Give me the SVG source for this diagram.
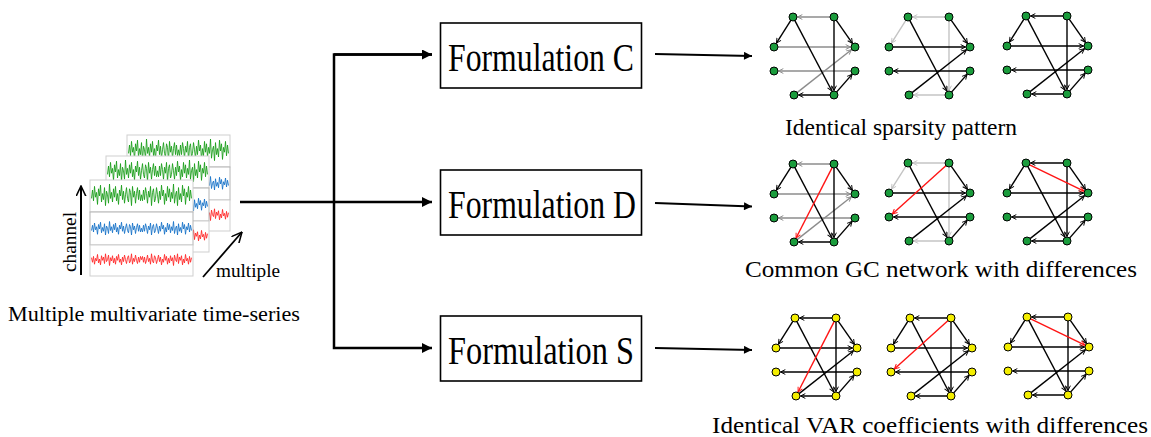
<svg xmlns="http://www.w3.org/2000/svg" xmlns:xlink="http://www.w3.org/1999/xlink" width="1151" height="437" viewBox="0 0 1151 437">
<style>
.box{fill:#fff;stroke:#000;stroke-width:1.6}
.t{font-family:"Liberation Serif","Times New Roman",serif;fill:#000}
.main{stroke:#000;stroke-width:2.5;fill:none}
.out{stroke:#000;stroke-width:2;fill:none}
.e{stroke-width:1.4;fill:none}
.k{stroke:#000;marker-end:url(#mk)}
.g{stroke:#8c8c8c;marker-end:url(#mg)}
.lg{stroke:#c4c4c4;marker-end:url(#ml)}
.r{stroke:#ff1414;marker-end:url(#mr)}
.gn{fill:#1a9c3c}
.yn{fill:#f4ee00}
.sp{fill:#fff;stroke:#cfcfcf;stroke-width:1}
.ts{fill:none;stroke-width:0.9}
</style>
<defs>
<marker id="mk" viewBox="0 0 10 10" refX="9" refY="5" markerWidth="6" markerHeight="6" markerUnits="userSpaceOnUse" orient="auto"><path d="M1,1 L9,5 L1,9" fill="none" stroke="#000" stroke-width="1.6"/></marker>
<marker id="mg" viewBox="0 0 10 10" refX="9" refY="5" markerWidth="6" markerHeight="6" markerUnits="userSpaceOnUse" orient="auto"><path d="M1,1 L9,5 L1,9" fill="none" stroke="#8c8c8c" stroke-width="1.6"/></marker>
<marker id="ml" viewBox="0 0 10 10" refX="9" refY="5" markerWidth="6" markerHeight="6" markerUnits="userSpaceOnUse" orient="auto"><path d="M1,1 L9,5 L1,9" fill="none" stroke="#c4c4c4" stroke-width="1.6"/></marker>
<marker id="mr" viewBox="0 0 10 10" refX="9" refY="5" markerWidth="6" markerHeight="6" markerUnits="userSpaceOnUse" orient="auto"><path d="M1,1 L9,5 L1,9" fill="none" stroke="#ff1414" stroke-width="1.6"/></marker>
<marker id="fa" viewBox="0 0 10 10" refX="10" refY="5" markerWidth="11" markerHeight="10" markerUnits="userSpaceOnUse" orient="auto"><path d="M0,0 L10,5 L0,10 Z" fill="#000"/></marker>
<marker id="fb" viewBox="0 0 10 10" refX="10" refY="5" markerWidth="10" markerHeight="8" markerUnits="userSpaceOnUse" orient="auto"><path d="M0,0 L10,5 L0,10 Z" fill="#000"/></marker>
<marker id="ov" viewBox="0 0 10 10" refX="9.5" refY="5" markerWidth="11" markerHeight="11" markerUnits="userSpaceOnUse" orient="auto"><path d="M0,0.5 L9.5,5 L0,9.5" fill="none" stroke="#000" stroke-width="1.4"/></marker>

<path id="n" vector-effect="non-scaling-stroke" d="M0,2 L2,-5 4,4 6,-8 8,1 10,-3 12,7 14,-6 16,0 18,-9 20,5 22,-2 24,3 26,-7 28,8 30,-4 32,-1 34,6 36,-10 38,2 40,-3 42,5 44,-6 46,1 48,-8 50,4 52,-2 54,7 56,-5 58,0 60,-9 62,3 64,-4 66,6 68,-1 70,-7 72,2 74,5 76,-6 78,-3 80,8 82,-8 84,1 86,-4 88,6 90,-2 92,-7 94,3 96,-5 98,4 100,-1"/>
<g id="ts"><use xlink:href="#n" transform="translate(1.5,0) scale(0.5,1)"/><use xlink:href="#n" transform="translate(101.5,0) scale(-0.5,1)"/></g>

<g id="panel">
<rect width="103" height="96" fill="#fff"/>
<rect class="sp" x="0" y="0" width="103" height="32"/>
<rect class="sp" x="0" y="32" width="103" height="33" style="stroke:#b4b4b4"/>
<rect class="sp" x="0" y="65" width="103" height="31"/>
<use class="ts" xlink:href="#ts" transform="translate(0,16) scale(1,1.2)" stroke="#1c9e1c"/>
<use class="ts" xlink:href="#ts" transform="translate(103,49) scale(-1,0.75)" stroke="#1a74c8"/>
<use class="ts" xlink:href="#ts" transform="translate(0,79) scale(1,-0.65)" stroke="#ff2a2a"/>
</g>

<line id="e1" x1="56.5" y1="0" x2="23.5" y2="0"/>
<line id="e2" x1="17.13" y1="2.96" x2="2.41" y2="26.2"/>
<line id="e3" x1="20.63" y1="3.1" x2="57.91" y2="74.02"/>
<line id="e4" x1="60" y1="3.5" x2="60" y2="73.5"/>
<line id="e5" x1="62.01" y1="2.87" x2="78.42" y2="26.31"/>
<line id="e6" x1="3.5" y1="30" x2="76.5" y2="30"/>
<line id="e7" x1="77.5" y1="54" x2="4.5" y2="54"/>
<line id="e8" x1="22.75" y1="75.84" x2="77.46" y2="32.78"/>
<line id="e9" x1="56.5" y1="78" x2="24.5" y2="78"/>
<line id="e10" x1="62.3" y1="75.37" x2="78.04" y2="57.39"/>
<line id="ra" x1="58.4" y1="3.11" x2="22.05" y2="74"/>
<line id="rb" x1="57.4" y1="2.34" x2="3.34" y2="50.99"/>
<line id="rc" x1="22.15" y1="1.52" x2="76.95" y2="28.04"/>
<g id="nodes" stroke="#000" stroke-width="1">
<circle cx="19" cy="0" r="4"/><circle cx="60" cy="0" r="4"/>
<circle cx="0" cy="30" r="4"/><circle cx="81" cy="30" r="4"/>
<circle cx="0" cy="54" r="4"/><circle cx="81" cy="54" r="4"/>
<circle cx="20" cy="78" r="4"/><circle cx="60" cy="78" r="4"/>
</g>
<g id="allk" class="e k">
<use xlink:href="#e1"/><use xlink:href="#e2"/><use xlink:href="#e3"/><use xlink:href="#e4"/><use xlink:href="#e5"/>
<use xlink:href="#e6"/><use xlink:href="#e7"/><use xlink:href="#e8"/><use xlink:href="#e9"/><use xlink:href="#e10"/>
</g>
<g id="patA" class="e">
<use xlink:href="#e1" class="g"/><use xlink:href="#e6" class="g"/><use xlink:href="#e7" class="g"/><use xlink:href="#e8" class="g"/>
<use xlink:href="#e2" class="k"/><use xlink:href="#e3" class="k"/><use xlink:href="#e4" class="k"/><use xlink:href="#e5" class="k"/><use xlink:href="#e9" class="k"/><use xlink:href="#e10" class="k"/>
</g>
<g id="patB" class="e">
<use xlink:href="#e1" class="lg"/><use xlink:href="#e2" class="lg"/><use xlink:href="#e4" class="lg"/><use xlink:href="#e9" class="lg"/>
<use xlink:href="#e3" class="k"/><use xlink:href="#e5" class="k"/><use xlink:href="#e6" class="k"/><use xlink:href="#e7" class="k"/><use xlink:href="#e8" class="k"/><use xlink:href="#e10" class="k"/>
</g>
</defs>

<rect width="1151" height="437" fill="#fff"/>

<g id="time-series">
<use xlink:href="#panel" x="127" y="135"/>
<use xlink:href="#panel" x="106" y="156"/>
<use xlink:href="#panel" x="90" y="180"/>
<line x1="81" y1="275" x2="81" y2="186" stroke="#000" stroke-width="2" marker-end="url(#ov)"/>
<text class="t" transform="translate(76,242) rotate(-90)" text-anchor="middle" font-size="19" textLength="60" lengthAdjust="spacingAndGlyphs">channel</text>
<line x1="203" y1="277" x2="242" y2="232" stroke="#000" stroke-width="1.8" marker-end="url(#ov)"/>
<text class="t" x="216" y="277" font-size="19" textLength="64" lengthAdjust="spacingAndGlyphs">multiple</text>
<text class="t" x="8" y="321" font-size="20" textLength="292" lengthAdjust="spacingAndGlyphs">Multiple multivariate time-series</text>
</g>

<g id="connectors">
<line class="main" x1="240" y1="202" x2="432" y2="202" marker-end="url(#fa)"/>
<polyline class="main" points="432,54.5 334,54.5 334,348 432,348" marker-end="url(#fa)"/>
<line class="main" x1="334" y1="54.5" x2="432" y2="54.5" marker-end="url(#fa)"/>
<line class="out" x1="655" y1="54" x2="752" y2="56" marker-end="url(#fb)"/>
<line class="out" x1="655" y1="203" x2="752" y2="206.5" marker-end="url(#fb)"/>
<line class="out" x1="655" y1="348" x2="752" y2="350" marker-end="url(#fb)"/>
</g>

<g id="formulation-c">
<rect class="box" x="440.5" y="23" width="201" height="65"/>
<text class="t" x="448" y="71" font-size="39" textLength="186" lengthAdjust="spacingAndGlyphs">Formulation C</text>
</g>
<g id="formulation-d">
<rect class="box" x="440.5" y="170" width="201" height="65"/>
<text class="t" x="448" y="218" font-size="39" textLength="188" lengthAdjust="spacingAndGlyphs">Formulation D</text>
</g>
<g id="formulation-s">
<rect class="box" x="440.5" y="316" width="201" height="65"/>
<text class="t" x="448" y="364" font-size="39" textLength="186" lengthAdjust="spacingAndGlyphs">Formulation S</text>
</g>

<g id="graph-c1" transform="translate(774,17)"><use xlink:href="#patA"/><use xlink:href="#nodes" class="gn"/></g>
<g id="graph-c2" transform="translate(889,17)"><use xlink:href="#patB"/><use xlink:href="#nodes" class="gn"/></g>
<g id="graph-c3" transform="translate(1007,16)"><use xlink:href="#allk"/><use xlink:href="#nodes" class="gn"/></g>
<text id="caption-c" class="t" x="785" y="135" font-size="23" textLength="232" lengthAdjust="spacingAndGlyphs">Identical sparsity pattern</text>

<g id="graph-d1" transform="translate(774,164)"><use xlink:href="#patA"/><use xlink:href="#ra" class="e r"/><use xlink:href="#nodes" class="gn"/></g>
<g id="graph-d2" transform="translate(889,163)"><use xlink:href="#patB"/><use xlink:href="#rb" class="e r"/><use xlink:href="#nodes" class="gn"/></g>
<g id="graph-d3" transform="translate(1007,163)"><use xlink:href="#allk"/><use xlink:href="#rc" class="e r"/><use xlink:href="#nodes" class="gn"/></g>
<text id="caption-d" class="t" x="745" y="277" font-size="23" textLength="392" lengthAdjust="spacingAndGlyphs">Common GC network with differences</text>

<g id="graph-s1" transform="translate(776,318)"><use xlink:href="#allk"/><use xlink:href="#ra" class="e r"/><use xlink:href="#nodes" class="yn"/></g>
<g id="graph-s2" transform="translate(891,318)"><use xlink:href="#allk"/><use xlink:href="#rb" class="e r"/><use xlink:href="#nodes" class="yn"/></g>
<g id="graph-s3" transform="translate(1008,317)"><use xlink:href="#allk"/><use xlink:href="#rc" class="e r"/><use xlink:href="#nodes" class="yn"/></g>
<text id="caption-s" class="t" x="712" y="433" font-size="23" textLength="436" lengthAdjust="spacingAndGlyphs">Identical VAR coefficients with differences</text>
</svg>
